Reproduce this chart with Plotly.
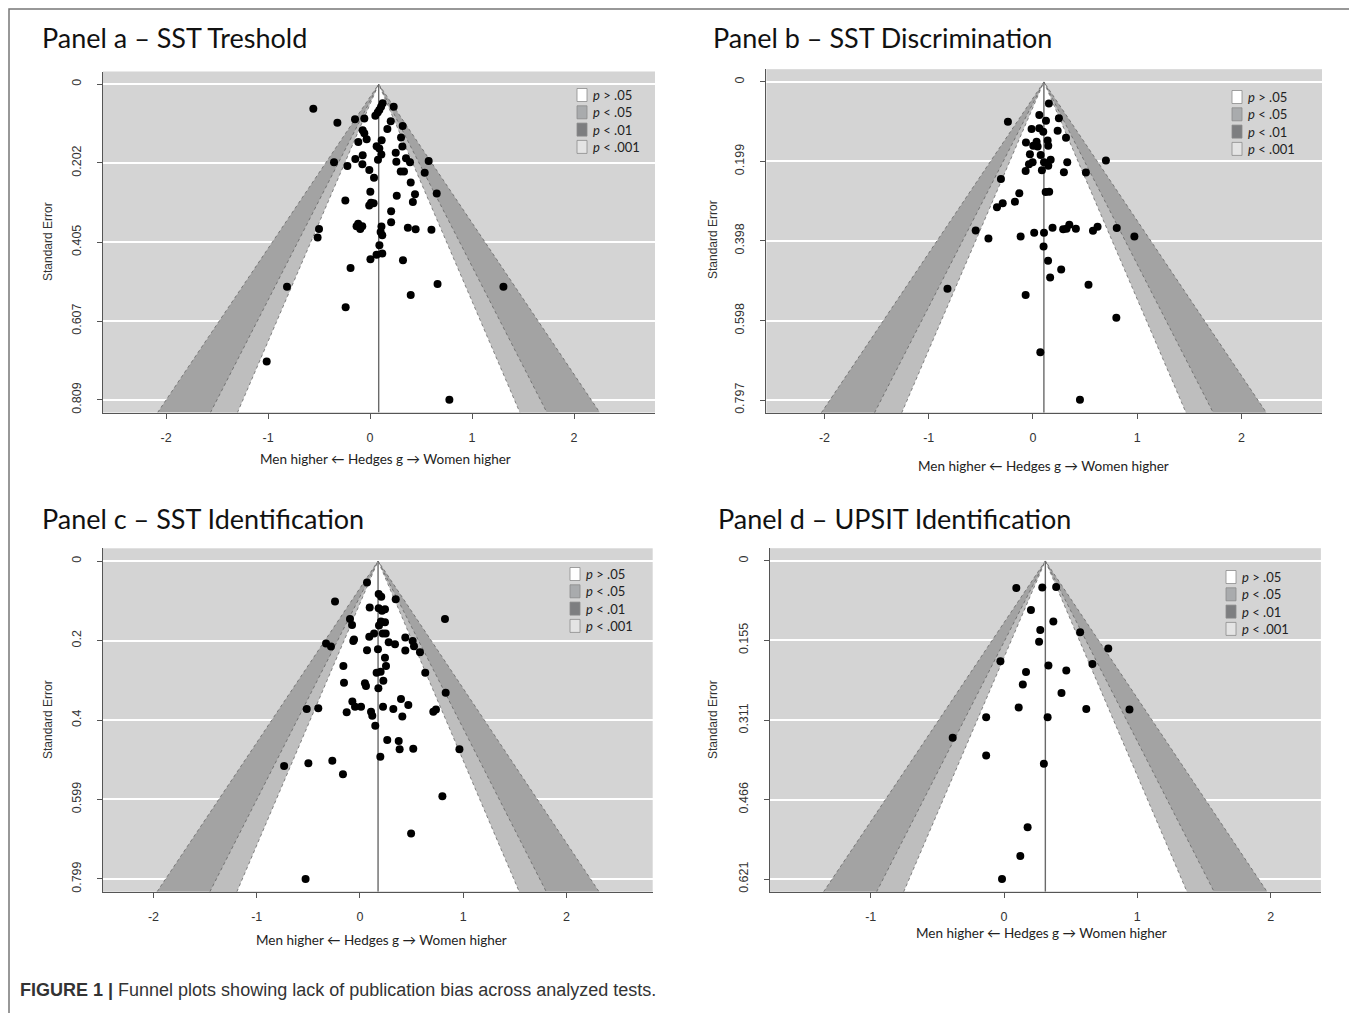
import plotly.graph_objects as go

# ---------------- data ----------------
a_g = [-0.556, -0.32, -0.147, -0.056, 0.124, 0.108, 0.091, 0.075, 0.052, 0.232, 0.203, 0.32, 0.170,
       -0.072, -0.056, -0.033, -0.115, 0.114, 0.304, 0.317, 0.065, 0.091, 0.111, -0.072, 0.252, 0.353,
       -0.144, 0.078, 0.258, 0.392, 0.575, -0.353, -0.222, -0.075, -0.007, 0.301, 0.333, 0.536, 0.039,
       0.399, 0.003, 0.262, 0.441, 0.654, -0.242, 0.010, 0.035, -0.008, 0.42, 0.207, 0.207, -0.116,
       -0.132, -0.076, -0.096, -0.50, -0.514, 0.112, 0.104, 0.12, 0.371, 0.447, 0.602, 0.092, 0.064,
       0.12, 0.004, 0.323, -0.191, -0.814, 0.662, 1.308, 0.399, -0.239, -1.013, 0.778]
a_se = [0.063, 0.099, 0.090, 0.088, 0.049, 0.058, 0.066, 0.073, 0.081, 0.058, 0.095, 0.107, 0.115,
        0.118, 0.126, 0.141, 0.148, 0.144, 0.137, 0.160, 0.159, 0.165, 0.180, 0.182, 0.176, 0.190,
        0.192, 0.194, 0.199, 0.200, 0.197, 0.200, 0.210, 0.205, 0.220, 0.224, 0.224, 0.227, 0.240,
        0.252, 0.276, 0.286, 0.282, 0.280, 0.298, 0.304, 0.305, 0.311, 0.302, 0.326, 0.354, 0.358,
        0.364, 0.364, 0.371, 0.371, 0.393, 0.365, 0.379, 0.387, 0.368, 0.372, 0.373, 0.413, 0.437,
        0.434, 0.449, 0.451, 0.471, 0.519, 0.512, 0.519, 0.540, 0.572, 0.711, 0.809]
a_est = 0.085
a_yticks = ["0", "0.202", "0.405", "0.607", "0.809"]
a_xticks = ["-2", "-1", "0", "1", "2"]

b_g = [0.153, 0.061, 0.249, 0.125, -0.240, -0.013, 0.061, 0.099, 0.237, 0.317, -0.067, 0.035, 0.141,
       0.003, 0.045, 0.147, -0.029, 0.074, -0.003, -0.038, 0.106, 0.17, 0.147, 0.329, 0.70, -0.07,
       0.086, 0.297, 0.508, -0.307, -0.131, 0.122, 0.156, -0.173, -0.29, -0.345, -0.549, -0.427,
       -0.118, 0.012, 0.106, 0.188, 0.29, 0.349, 0.322, 0.412, 0.576, 0.62, 0.804, 0.973, 0.102,
       0.145, 0.271, 0.165, -0.82, 0.533, -0.07, 0.80, 0.071, 0.451]
b_se = [0.054, 0.083, 0.091, 0.097, 0.100, 0.118, 0.116, 0.125, 0.122, 0.140, 0.152, 0.150, 0.147,
        0.160, 0.162, 0.160, 0.181, 0.183, 0.201, 0.206, 0.201, 0.195, 0.210, 0.201, 0.197, 0.223,
        0.221, 0.226, 0.227, 0.243, 0.279, 0.276, 0.275, 0.300, 0.304, 0.314, 0.372, 0.392,
        0.387, 0.378, 0.378, 0.365, 0.369, 0.358, 0.368, 0.368, 0.373, 0.363, 0.366, 0.387, 0.412,
        0.448, 0.470, 0.490, 0.518, 0.508, 0.534, 0.591, 0.677, 0.796]
b_est = 0.105
b_yticks = ["0", "0.199", "0.398", "0.598", "0.797"]
b_xticks = ["-2", "-1", "0", "1", "2"]

c_g = [0.068, 0.181, 0.206, 0.346, -0.242, 0.823, 0.094, 0.181, 0.213, 0.242, -0.097, -0.077, 0.203,
       0.242, 0.184, 0.136, 0.090, 0.22, 0.249, -0.058, -0.065, -0.329, -0.281, 0.278, 0.339, 0.439,
       0.51, 0.523, 0.581, 0.068, 0.174, 0.439, 0.242, 0.252, -0.161, 0.632, 0.161, 0.2, 0.226,
       -0.155, 0.048, 0.058, 0.178, 0.83, -0.516, -0.404, -0.074, -0.048, 0.010, -0.129, 0.107,
       0.119, 0.223, 0.323, 0.397, 0.468, 0.41, 0.71, 0.736, 0.148, 0.264, 0.375, 0.384, 0.516,
       0.963, 0.197, -0.50, -0.268, -0.735, -0.165, 0.798, 0.495, -0.527]
c_se = [0.054, 0.083, 0.090, 0.096, 0.102, 0.146, 0.117, 0.119, 0.125, 0.121, 0.146, 0.161, 0.152,
        0.154, 0.162, 0.182, 0.190, 0.182, 0.182, 0.197, 0.201, 0.207, 0.215, 0.204, 0.209, 0.192,
        0.201, 0.214, 0.229, 0.224, 0.222, 0.225, 0.243, 0.264, 0.264, 0.281, 0.281, 0.278, 0.301,
        0.306, 0.307, 0.314, 0.320, 0.331, 0.372, 0.370, 0.353, 0.366, 0.366, 0.380, 0.379,
        0.389, 0.366, 0.372, 0.347, 0.362, 0.391, 0.379, 0.373, 0.414, 0.450, 0.452, 0.473, 0.472,
        0.473, 0.492, 0.508, 0.502, 0.515, 0.536, 0.591, 0.685, 0.799]
c_est = 0.175
c_yticks = ["0", "0.2", "0.4", "0.599", "0.799"]
c_xticks = ["-2", "-1", "0", "1", "2"]

d_g = [0.092, 0.287, 0.391, 0.202, 0.370, 0.272, 0.571, 0.263, 0.782, -0.027, 0.333, 0.663, 0.165,
       0.467, 0.141, 0.431, 0.110, 0.617, 0.941, -0.134, 0.327, -0.385, -0.134, 0.299, 0.177,
       0.122, -0.015]
d_se = [0.053, 0.052, 0.051, 0.096, 0.118, 0.135, 0.139, 0.158, 0.171, 0.196, 0.204, 0.201, 0.217,
        0.214, 0.241, 0.258, 0.286, 0.289, 0.290, 0.305, 0.305, 0.345, 0.380, 0.396, 0.520,
        0.576, 0.621]
d_est = 0.31
d_yticks = ["0", "0.155", "0.311", "0.466", "0.621"]
d_xticks = ["-1", "0", "1", "2"]

titles = ["Panel a \u2013 SST Treshold", "Panel b \u2013 SST Discrimination",
          "Panel c \u2013 SST Identification", "Panel d \u2013 UPSIT Identification"]
legend_labels = ["<i>p</i> > .05", "<i>p</i> < .05", "<i>p</i> < .01", "<i>p</i> < .001"]
x_title = "Men higher \u2190 Hedges g \u2192 Women higher"
y_title = "Standard Error"
caption_bold = "FIGURE 1 |"
caption_text = "Funnel plots showing lack of publication bias across analyzed tests."
z_levels = [2.576, 1.960, 1.645]   # 99%, 95%, 90% contours

# ---------------- layout geometry (reference-page pixels) ----------------
PAGE_OFF = 8                      # the page body margin shifts the figure by 8 px
W, H = 1357 - PAGE_OFF, 1013 - PAGE_OFF
def PX(x): return (x - PAGE_OFF) / W
def PY(y): return 1 - (y - PAGE_OFF) / H

panels = [
    dict(g=a_g, se=a_se, est=a_est, yt=a_yticks, xt=a_xticks,
         xr=[-2.618, 2.794], box=(103, 71.5, 655, 412.5),
         title=(40, 38), xtitle=(385, 459), ytitle=(48, 242), leg=(577, 95)),
    dict(g=b_g, se=b_se, est=b_est, yt=b_yticks, xt=b_xticks,
         xr=[-2.557, 2.773], box=(766.4, 69.2, 1322, 412.8),
         title=(711, 38), xtitle=(1043, 466), ytitle=(713, 240), leg=(1232, 97)),
    dict(g=c_g, se=c_se, est=c_est, yt=c_yticks, xt=c_xticks,
         xr=[-2.493, 2.835], box=(102.6, 548.3, 652.7, 891.7),
         title=(40, 518), xtitle=(381, 940), ytitle=(48, 720), leg=(570, 574)),
    dict(g=d_g, se=d_se, est=d_est, yt=d_yticks, xt=d_xticks,
         xr=[-1.757, 2.377], box=(769.8, 548.2, 1320.9, 891.8),
         title=(716, 518), xtitle=(1041, 933), ytitle=(713, 720), leg=(1226, 577)),
]

band_fill = ["#a3a3a3", "#bebebe", "#ffffff"]
legend_fill = ["#ffffff", "#a9abad", "#7d7e80", "#e4e4e4"]

fig = go.Figure()
layout = dict(width=W, height=H, margin=dict(l=0, r=0, t=0, b=0),
              paper_bgcolor="white", plot_bgcolor="#d4d4d4", showlegend=False)
shapes, annotations = [], []

tickfont = dict(family="Liberation Sans, Arial", size=12.5, color="#333")

for i, p in enumerate(panels):
    n = "" if i == 0 else str(i + 1)
    xa, ya = "x" + n, "y" + n
    semax = float(p["yt"][-1])
    ybot = semax * 1.04
    ytop = -semax * 0.04
    est = p["est"]
    for z, col in zip(z_levels, band_fill):
        fig.add_trace(go.Scatter(
            x=[est - z * ybot, est, est + z * ybot], y=[ybot, 0, ybot],
            mode="lines", fill="toself", fillcolor=col,
            line=dict(color="#5a5a5a", width=0.7, dash="dot"),
            hoverinfo="skip", xaxis=xa, yaxis=ya))
    fig.add_trace(go.Scatter(x=[est, est], y=[0, ybot], mode="lines",
                             line=dict(color="#6a6a6a", width=1.4),
                             hoverinfo="skip", xaxis=xa, yaxis=ya))
    fig.add_trace(go.Scatter(x=p["g"], y=p["se"], mode="markers",
                             marker=dict(color="black", size=8),
                             xaxis=xa, yaxis=ya))
    l, t, r, b = p["box"]
    layout["xaxis" + n] = dict(domain=[PX(l), PX(r)], range=p["xr"], anchor=ya,
                               tickvals=[float(v) for v in p["xt"]], ticktext=p["xt"],
                               ticks="outside", ticklen=5,
                               tickcolor="#555", showline=True, linecolor="#555",
                               linewidth=1, showgrid=False, zeroline=False,
                               tickfont=tickfont, ticklabelstandoff=8, fixedrange=True)
    layout["yaxis" + n] = dict(domain=[PY(b), PY(t)], range=[ybot, ytop], anchor=xa,
                               tickvals=[float(v) for v in p["yt"]], ticktext=p["yt"],
                               tickangle=-90, ticks="outside", ticklen=5,
                               tickcolor="#555", showline=True, linecolor="#555",
                               linewidth=1, showgrid=True, gridcolor="white",
                               gridwidth=1.6, zeroline=False,
                               tickfont=tickfont, ticklabelstandoff=11, fixedrange=True)
    # titles
    tx, ty = p["title"]
    annotations.append(dict(x=PX(tx), y=PY(ty), xref="paper", yref="paper",
                            xanchor="left", yanchor="middle", showarrow=False,
                            text=titles[i],
                            font=dict(family="Lato, Open Sans", size=27, color="#111")))
    xx, xy = p["xtitle"]
    annotations.append(dict(x=PX(xx), y=PY(xy), xref="paper", yref="paper",
                            xanchor="center", yanchor="middle", showarrow=False,
                            text=x_title,
                            font=dict(family="Lato, Open Sans", size=13.5, color="#222")))
    yx, yy = p["ytitle"]
    annotations.append(dict(x=PX(yx), y=PY(yy), xref="paper", yref="paper",
                            xanchor="center", yanchor="middle", showarrow=False,
                            text=y_title, textangle=-90,
                            font=dict(family="Liberation Sans, Arial", size=12, color="#333")))
    # legend
    lx, ly = p["leg"]
    for k, (lab, col) in enumerate(zip(legend_labels, legend_fill)):
        cy = ly + k * 17.3
        shapes.append(dict(type="rect", xref="paper", yref="paper",
                           x0=PX(lx), x1=PX(lx + 10), y0=PY(cy + 6.5), y1=PY(cy - 6.5),
                           fillcolor=col, line=dict(color="#8a8a8a", width=0.8)))
        annotations.append(dict(x=PX(lx + 14), y=PY(cy), xref="paper", yref="paper",
                                xanchor="left", yanchor="middle", showarrow=False,
                                text=lab,
                                font=dict(family="Lato, Open Sans", size=13, color="#222")))

# figure frame and caption
shapes.append(dict(type="rect", xref="paper", yref="paper",
                   x0=PX(9), x1=PX(1353.5), y0=-0.02, y1=PY(9),
                   line=dict(color="#777", width=1.5), fillcolor="rgba(0,0,0,0)"))
annotations.append(dict(x=PX(18), y=PY(990), xref="paper", yref="paper",
                        xanchor="left", yanchor="middle", showarrow=False,
                        text="<b>" + caption_bold + "</b> " + caption_text,
                        font=dict(family="Liberation Sans Narrow, Arial Narrow, Liberation Sans",
                                  size=18, color="#333")))

layout["shapes"] = shapes
layout["annotations"] = annotations
fig.update_layout(**layout)
fig.write_html("out.html")
